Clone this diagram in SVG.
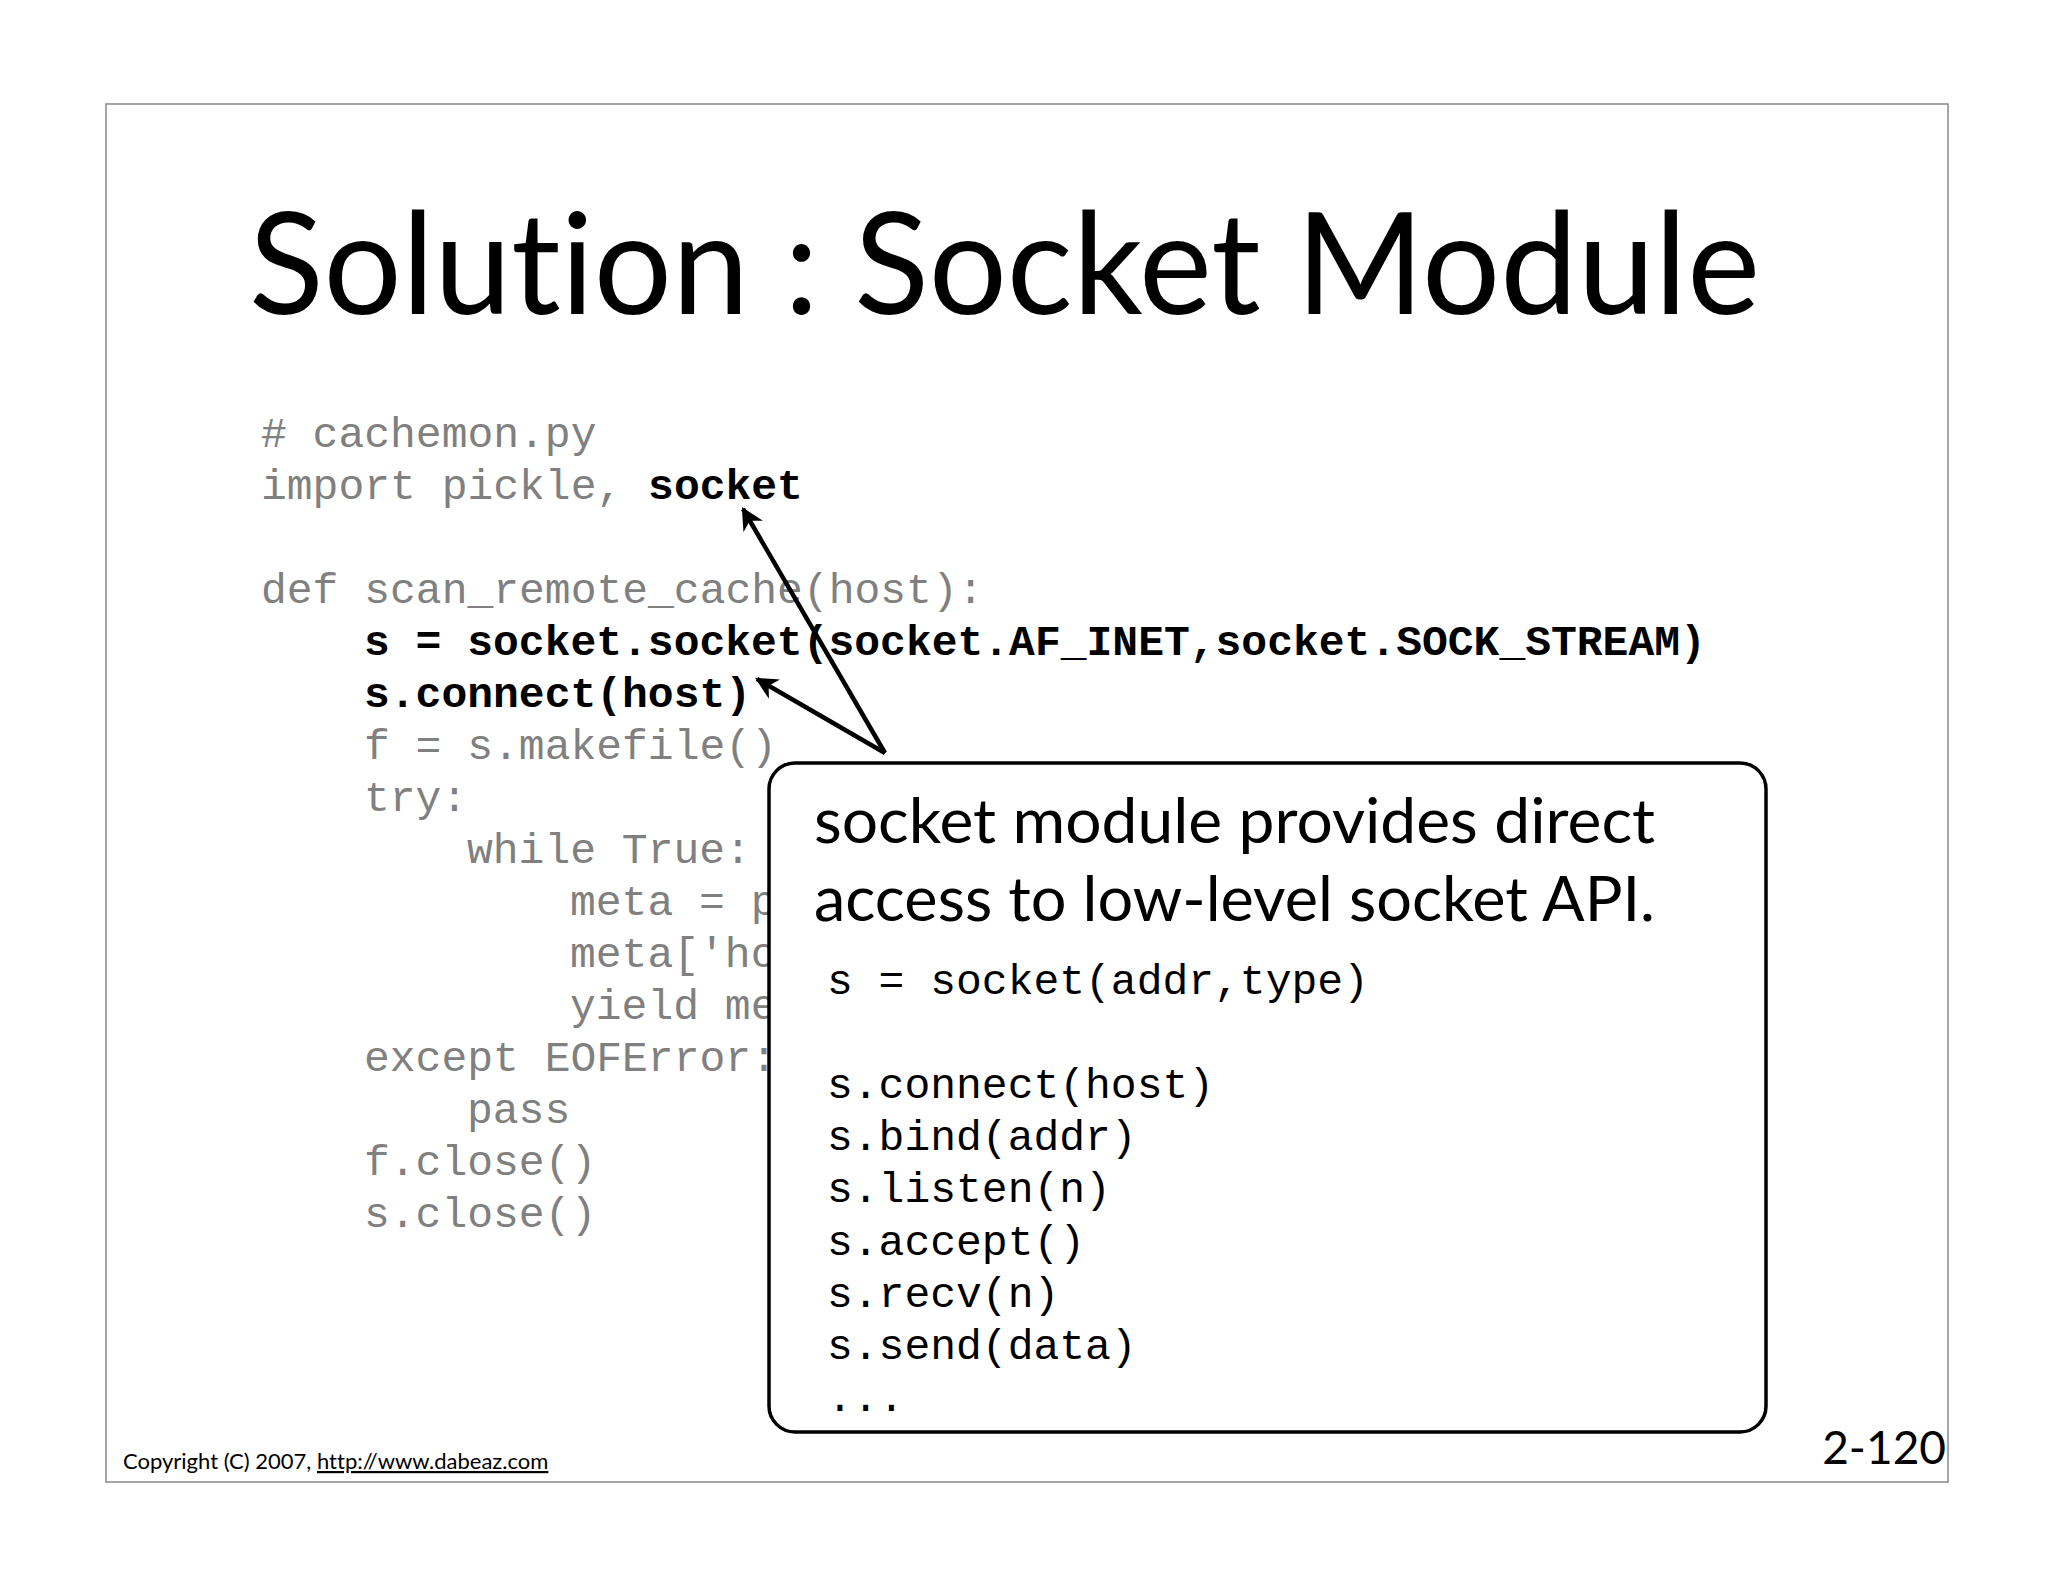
<svg xmlns="http://www.w3.org/2000/svg" width="2048" height="1582" viewBox="0 0 2048 1582">
<style>
.c{font-family:"Liberation Mono",monospace;font-size:43px;fill:#808080;white-space:pre}
.b{fill:#000;font-weight:bold}
.k{font-family:"Liberation Mono",monospace;font-size:43px;fill:#000;white-space:pre}
.s{font-family:"Lato","Liberation Sans",sans-serif;fill:#000;font-variant-ligatures:none}
</style>
<defs>
<marker id="ah" viewBox="0 0 10 10" refX="9" refY="5" markerWidth="5" markerHeight="5" orient="auto" markerUnits="strokeWidth"><path d="M0,0 L10,5 L0,10 L3,5 z" fill="#000"/></marker>
</defs>
<rect width="2048" height="1582" fill="#fff"/>
<rect x="106" y="104" width="1842" height="1378" fill="none" stroke="#888" stroke-width="1.5"/>
<text class="s" x="249" y="314" font-size="142" textLength="1511" lengthAdjust="spacingAndGlyphs">Solution : Socket Module</text>
<g id="code">
<text class="c" x="261" y="447"># cachemon.py</text>
<text class="c" x="261" y="499">import pickle, <tspan class="b">socket</tspan></text>
<text class="c" x="261" y="603">def scan_remote_cache(host):</text>
<text class="c b" x="364" y="655">s = socket.socket(socket.AF_INET,socket.SOCK_STREAM)</text>
<text class="c b" x="364" y="707">s.connect(host)</text>
<text class="c" x="364" y="759">f = s.makefile()</text>
<text class="c" x="364" y="811">try:</text>
<text class="c" x="467" y="863">while True:</text>
<text class="c" x="570" y="915">meta = p</text>
<text class="c" x="570" y="967">meta['ho</text>
<text class="c" x="570" y="1019">yield me</text>
<text class="c" x="364" y="1071">except EOFError:</text>
<text class="c" x="467" y="1123">pass</text>
<text class="c" x="364" y="1175">f.close()</text>
<text class="c" x="364" y="1227">s.close()</text>
</g>
<g id="callout">
<rect x="769" y="763" width="997" height="669" rx="26" fill="#fff" stroke="#000" stroke-width="3.5"/>
<text class="s" x="814" y="843" font-size="62" textLength="841" lengthAdjust="spacingAndGlyphs">socket module provides direct</text>
<text class="s" x="814" y="921" font-size="62" textLength="841" lengthAdjust="spacingAndGlyphs">access to low-level socket API.</text>
<text class="k" x="827" y="994">s = socket(addr,type)</text>
<text class="k" x="827" y="1098">s.connect(host)</text>
<text class="k" x="827" y="1150">s.bind(addr)</text>
<text class="k" x="827" y="1202">s.listen(n)</text>
<text class="k" x="827" y="1255">s.accept()</text>
<text class="k" x="827" y="1307">s.recv(n)</text>
<text class="k" x="827" y="1359">s.send(data)</text>
<text class="k" x="827" y="1411">...</text>
</g>
<g id="connectors" stroke="#000" stroke-width="4.5" fill="none">
<line x1="885" y1="753" x2="743" y2="509" marker-end="url(#ah)"/>
<line x1="885" y1="753" x2="757" y2="679" marker-end="url(#ah)"/>
</g>
<text class="s" x="123" y="1469" font-size="22">Copyright (C) 2007,  <tspan text-decoration="underline">http://www.dabeaz.com</tspan></text>
<text class="s" x="1946" y="1464" font-size="46" text-anchor="end">2-120</text>
</svg>
